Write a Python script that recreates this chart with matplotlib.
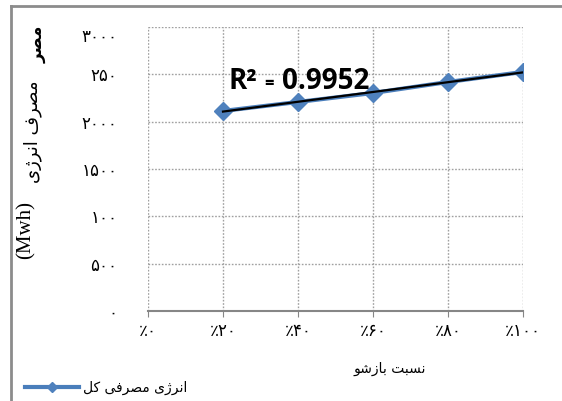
import numpy as np
import matplotlib
matplotlib.use("Agg")
import matplotlib.pyplot as plt
from matplotlib.lines import Line2D
from matplotlib.transforms import ScaledTranslation

# داده ها
nesbat = [20, 40, 60, 80, 100]
energy = [2113, 2208, 2303, 2419, 2525]
x_ticks = [0, 20, 40, 60, 80, 100]
x_labels = ["٪۰", "٪۲۰", "٪۴۰", "٪۶۰", "٪۸۰", "٪۱۰۰"]
y_ticks = [0, 500, 1000, 1500, 2000, 2500, 3000]
y_labels = ["۰", "۵۰۰", "۱۰۰", "۱۵۰۰", "۲۰۰۰", "۲۵۰", "۳۰۰۰"]
r2_text = "0.9952"

# اشکال حروف فارسی (تنها، پایانی، آغازی، میانی)
FORMS = {
    'ا': (0xFE8D, 0xFE8E),
    'ب': (0xFE8F, 0xFE90, 0xFE91, 0xFE92),
    'ت': (0xFE95, 0xFE96, 0xFE97, 0xFE98),
    'ر': (0xFEAD, 0xFEAE),
    'ز': (0xFEAF, 0xFEB0),
    'ژ': (0xFB8A, 0xFB8B),
    'س': (0xFEB1, 0xFEB2, 0xFEB3, 0xFEB4),
    'ش': (0xFEB5, 0xFEB6, 0xFEB7, 0xFEB8),
    'ص': (0xFEB9, 0xFEBA, 0xFEBB, 0xFEBC),
    'ف': (0xFED1, 0xFED2, 0xFED3, 0xFED4),
    'ک': (0xFB8E, 0xFB8F, 0xFB90, 0xFB91),
    'ل': (0xFEDD, 0xFEDE, 0xFEDF, 0xFEE0),
    'م': (0xFEE1, 0xFEE2, 0xFEE3, 0xFEE4),
    'ن': (0xFEE5, 0xFEE6, 0xFEE7, 0xFEE8),
    'و': (0xFEED, 0xFEEE),
    'ی': (0xFBFC, 0xFBFD, 0xFBFE, 0xFBFF),
}


def fa(text):
    """شکل دادن حروف و برگرداندن ترتیب برای نمایش چپ به راست"""
    out = []
    for i, ch in enumerate(text):
        f = FORMS.get(ch)
        if f is None:
            out.append(ch)
            continue
        prev = FORMS.get(text[i - 1]) if i > 0 else None
        nxt = FORMS.get(text[i + 1]) if i + 1 < len(text) else None
        a = prev is not None and len(prev) == 4
        b = nxt is not None and len(f) == 4
        idx = 3 if (a and b) else 1 if a else 2 if b else 0
        out.append(chr(f[idx]))
    return ''.join(reversed(out))


plt.rcParams['font.family'] = ['DejaVu Sans']

fig = plt.figure(figsize=(5.62, 4.01), dpi=100)
ax = fig.add_axes([148 / 562, 90 / 401, 375 / 562, 284 / 401])

blue = '#4A7EBB'
ax.plot(nesbat, energy, color=blue, lw=3, marker='D', ms=9,
        mfc='#4F81BD', mec='#4F81BD', zorder=3, label=fa('انرژی مصرفی کل'))

# خط روند
coef = np.polyfit(nesbat, energy, 1)
xx = np.array([nesbat[0], nesbat[-1]])
ax.plot(xx, np.polyval(coef, xx), color='black', lw=1.6, zorder=4)

ax.set_xlim(0, 100)
ax.set_ylim(0, 3000)
ax.set_xticks(x_ticks)
ax.set_xticklabels(x_labels, fontsize=12)
ax.set_yticks(y_ticks)
ax.set_yticklabels(y_labels, fontsize=12)
ax.tick_params(axis='y', length=0, pad=22)
ax.tick_params(axis='x', length=4, color='#868686', pad=4)

# برچسب بالایی کمی پایین تر از خط شبکه است
top_lbl = ax.yaxis.get_major_ticks()[-1].label1
top_lbl.set_transform(top_lbl.get_transform() + ScaledTranslation(0, -8 / 100, fig.dpi_scale_trans))

ax.grid(True, color='#a0a0a0', lw=1.0, linestyle=(0, (1.2, 1.2)))
ax.set_axisbelow(True)
for s in ['top', 'right', 'left']:
    ax.spines[s].set_visible(False)
ax.spines['bottom'].set_color('#868686')
ax.spines['bottom'].set_linewidth(1.5)
ax.spines['bottom'].set_zorder(5)

ax.set_xlabel(fa('نسبت بازشو'), fontsize=10)
ax.xaxis.set_label_coords((390 - 148) / 375, -0.18)

# برچسب محور عمودی
fig.text(33 / 562, 1 - 132 / 401, fa('مصرف انرژی'), rotation=90,
         fontsize=13, ha='center', va='center')
fig.text(26 / 562, 1 - 230 / 401, '(Mwh)', rotation=90, family='Liberation Serif',
         fontsize=15, ha='center', va='center')
fig.text(38 / 562, 1 - 44 / 401, fa('مصر'), rotation=90, fontsize=12,
         fontweight='bold', ha='center', va='center')

# ضریب تعیین
fig.text(228 / 562, 1 - 89 / 401, 'R²', family='Open Sans', fontweight='bold',
         fontsize=20, va='baseline')
fig.text(264 / 562, 1 - 89 / 401, '=', family='Open Sans', fontweight='bold',
         fontsize=12, va='baseline')
fig.text(282 / 562, 1 - 89 / 401, r2_text, family='Open Sans', fontweight='bold',
         fontsize=20, va='baseline')

# کادر دور نمودار
fig.add_artist(Line2D([11 / 562, 1], [1 - 6 / 401, 1 - 6 / 401], color='#8c8c8c',
                      lw=2, transform=fig.transFigure))
fig.add_artist(Line2D([11 / 562, 11 / 562], [0, 1 - 6 / 401], color='#8c8c8c',
                      lw=2, transform=fig.transFigure))

fig.legend(loc='center left', bbox_to_anchor=(18 / 562, 13 / 401), frameon=False,
           fontsize=10, handlelength=3.9, handletextpad=0.3, borderpad=0,
           markerscale=0.6)

fig.savefig('out.png', dpi=100)
